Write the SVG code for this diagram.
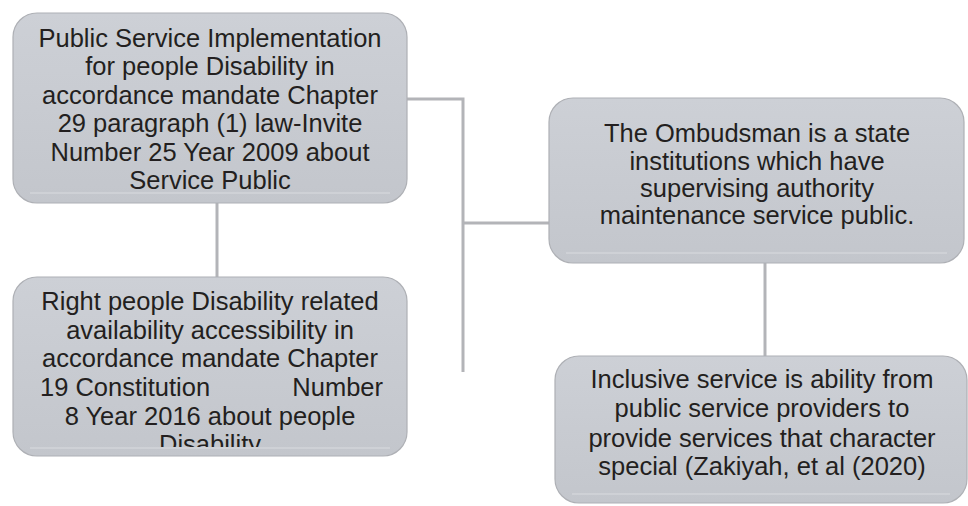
<svg xmlns="http://www.w3.org/2000/svg" width="968" height="506" viewBox="0 0 968 506">
<style>
.box{fill:url(#g);stroke:#aeb0b5;stroke-width:1.2}
.hl{stroke:#dadbdf;stroke-width:1.2}
.t{font-family:"Liberation Sans",Arial,sans-serif;font-size:25.5px;fill:#231f20;text-anchor:middle}
.c{fill:none;stroke:#b3b4b8;stroke-width:3}
</style>
<defs>
<linearGradient id="g" x1="0" y1="0" x2="0" y2="1">
<stop offset="0" stop-color="#cdd0d6"/>
<stop offset="1" stop-color="#c3c6cc"/>
</linearGradient>
<clipPath id="clip2"><rect x="13" y="277" width="394" height="170"/></clipPath>
</defs>
<rect width="968" height="506" fill="#ffffff"/>
<g id="connectors">
<path class="c" d="M407,99 H463 V372"/>
<path class="c" d="M463,223 H549"/>
<path class="c" d="M217,203 V277"/>
<path class="c" d="M765,263 V356"/>
</g>
<g id="node1">
<rect class="box" x="13" y="13" width="394" height="190" rx="24"/>
<line class="hl" x1="30" y1="193" x2="390" y2="193"/>
<text class="t" x="210" y="47">Public Service Implementation</text>
<text class="t" x="210" y="75">for people Disability in</text>
<text class="t" x="210" y="104">accordance mandate Chapter</text>
<text class="t" x="210" y="132">29 paragraph (1) law-Invite</text>
<text class="t" x="210" y="161">Number 25 Year 2009 about</text>
<text class="t" x="210" y="189">Service Public</text>
</g>
<g id="node2">
<rect class="box" x="13" y="277" width="394" height="179" rx="24"/>
<line class="hl" x1="30" y1="448" x2="390" y2="448"/>
<g clip-path="url(#clip2)">
<text class="t" x="210" y="310">Right people Disability related</text>
<text class="t" x="210" y="339">availability accessibility in</text>
<text class="t" x="210" y="367">accordance mandate Chapter</text>
<text class="t" x="40" y="396" style="text-anchor:start">19 Constitution</text>
<text class="t" x="383" y="396" style="text-anchor:end">Number</text>
<text class="t" x="210" y="425">8 Year 2016 about people</text>
<text class="t" x="210" y="453">Disability</text>
</g>
</g>
<g id="node3">
<rect class="box" x="549" y="98" width="415" height="165" rx="24"/>
<line class="hl" x1="566" y1="253" x2="947" y2="253"/>
<text class="t" x="757" y="142">The Ombudsman is a state</text>
<text class="t" x="757" y="170">institutions which have</text>
<text class="t" x="757" y="197">supervising authority</text>
<text class="t" x="757" y="224">maintenance service public.</text>
</g>
<g id="node4">
<rect class="box" x="555" y="356" width="412" height="147" rx="24"/>
<line class="hl" x1="572" y1="494" x2="950" y2="494"/>
<text class="t" x="762" y="388">Inclusive service is ability from</text>
<text class="t" x="762" y="417">public service providers to</text>
<text class="t" x="762" y="447">provide services that character</text>
<text class="t" x="762" y="475">special (Zakiyah, et al (2020)</text>
</g>
</svg>
